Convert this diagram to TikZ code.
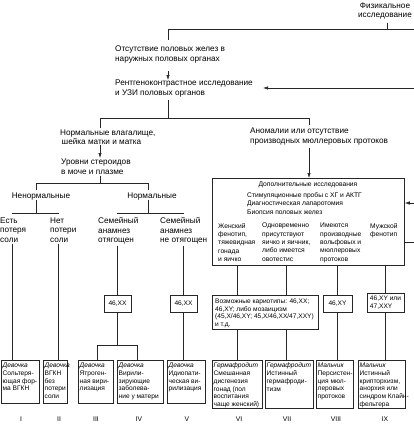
\documentclass[tikz,border=0pt]{standalone}
\usepackage{fontspec}
\setmainfont{Liberation Sans}
\usetikzlibrary{arrows.meta,calc}
\begin{document}
\begin{tikzpicture}[x=1pt,y=-1pt,
  line/.style={draw=black!85, line width=0.6pt},
  arr/.style={line, -{Latex[length=5pt,width=3.4pt]}},
  txt/.style={inner sep=0pt, align=left, font=\fontsize{8.2}{9.5}\selectfont},
  mtxt/.style={inner sep=0pt, align=left, font=\fontsize{6.7}{8.3}\selectfont},
  btxt/.style={inner sep=0pt, align=left, anchor=north west, font=\fontsize{6.6}{7.7}\selectfont},
  box/.style={draw=black!85, line width=0.8pt, inner sep=0pt, anchor=north west},
  kbox/.style={draw=black!85, line width=0.8pt, inner sep=0pt, align=left, font=\fontsize{6.6}{7.7}\selectfont},
  num/.style={inner sep=0pt, font=\fontsize{6.8}{8}\selectfont}
]
\useasboundingbox (0,0) rectangle (414,426);

% ---------- text nodes ----------
\node[txt, align=center, anchor=north] (phys) at (385,2.5) {Физикальное\\исследование};
\node[txt, anchor=north west] (abs) at (115,46) {Отсутствие половых желез в\\наружных половых органах};
\node[txt, anchor=north west] (xray) at (115,80) {Рентгеноконтрастное исследование\\и УЗИ половых органов};
\node[txt, anchor=north west] (norm) at (60,129.5) {Нормальные влагалище,\\\hspace{1.5pt}шейка матки и матка};
\node[txt, anchor=north west] (ster) at (61,159) {Уровни стероидов\\в моче и плазме};
\node[txt, anchor=north west] (anom) at (250,128) {Аномалии или отсутствие\\производных мюллеровых протоков};
\node[txt, anchor=north] (abn) at (41,192.5) {Ненормальные};
\node[txt, anchor=north] (nor) at (152,192.5) {Нормальные};
\node[txt, anchor=north west] (salt) at (0,217.5) {Есть\\потеря\\соли};
\node[txt, anchor=north west] (nosalt) at (50,217.5) {Нет\\потери\\соли};
\node[txt, anchor=north west] (fam) at (98,217.5) {Семейный\\анамнез\\отягощен};
\node[txt, anchor=north west] (nofam) at (160,217.5) {Семейный\\анамнез\\не отягощен};

% ---------- big box ----------
\node[box, minimum width=192, minimum height=87] (add) at (212,178) {};
\node[mtxt, anchor=north] (addt) at (308,182) {Дополнительные исследования};
\node[mtxt, anchor=north west] (meth) at (247,192.5) {Стимуляционные пробы с ХГ и АКТГ\\Диагностическая лапаротомия\\Биопсия половых желез};
\node[mtxt, anchor=north west] (c1) at (218,223) {Женский\\фенотип,\\тяжевидная\\гонада\\и яичко};
\node[mtxt, anchor=north west] (c2) at (262,223) {Одновременно\\присутствуют\\яичко и яичник,\\либо имеется\\овотестис};
\node[mtxt, anchor=north west] (c3) at (320,223) {Имеются\\производные\\вольфовых и\\мюллеровых\\протоков};
\node[mtxt, anchor=north west] (c4) at (370,223) {Мужской\\фенотип};

% ---------- karyotype boxes ----------
\node[kbox, minimum width=27, minimum height=17] (xxa) at (117.5,303.5) {46,XX};
\node[kbox, minimum width=27, minimum height=17] (xxb) at (183.5,303.5) {46,XX};
\node[box, minimum width=106, minimum height=34] (poss) at (212,295) {};
\node[btxt] (posst) at (215,298.5) {Возможные кариотипы: 46,XX;\\46,XY; либо мозаицизм\\(45,X/46,XY; 45,X/46,XX/47,XXY)\\и т.д.};
\node[kbox, minimum width=29, minimum height=17] (xy) at (337.5,303.5) {46,XY};
\node[kbox, minimum width=37, minimum height=19] (xyo) at (385.5,302.5) {46,XY или\\47,XXY};

% ---------- result boxes ----------
\node[box, minimum width=38, minimum height=43] (bI) at (1,360) {};
\node[box, minimum width=24, minimum height=43] (bII) at (43,360) {};
\node[box, minimum width=35, minimum height=43] (bIII) at (78,360) {};
\node[box, minimum width=46, minimum height=43] (bIV) at (117,360) {};
\node[box, minimum width=38, minimum height=43] (bV) at (167,360) {};
\node[box, minimum width=50, minimum height=48] (bVI) at (212,360) {};
\node[box, minimum width=48, minimum height=48] (bVII) at (265,360) {};
\node[box, minimum width=37, minimum height=48] (bVIII) at (316,360) {};
\node[box, minimum width=47, minimum height=48] (bIX) at (358,360) {};

\node[btxt] (tI) at ([shift={(1.5,3)}]bI.north west) {\textit{Девочка}\\Сольтеря-\\ющая фор-\\ма ВГКН};
\node[btxt] (tII) at ([shift={(1.5,3)}]bII.north west) {\textit{Девочка}\\ВГКН\\без\\потери\\соли};
\node[btxt] (tIII) at ([shift={(1.5,3)}]bIII.north west) {\textit{Девочка}\\Ятроген-\\ная вири-\\лизация};
\node[btxt] (tIV) at ([shift={(1.5,3)}]bIV.north west) {\textit{Девочка}\\Вирили-\\зирующие\\заболева-\\ние у матери};
\node[btxt] (tV) at ([shift={(1.5,3)}]bV.north west) {\textit{Девочка}\\Идиопати-\\ческая ви-\\рилизация};
\node[btxt] (tVI) at ([shift={(1.5,3)}]bVI.north west) {\textit{Гермафродит}\\Смешанная\\дисгенезия\\гонад (пол\\воспитания\\чаще женский)};
\node[btxt] (tVII) at ([shift={(1.5,3)}]bVII.north west) {\textit{Гермафродит}\\Истинный\\гермафроди-\\тизм};
\node[btxt] (tVIII) at ([shift={(1.5,3)}]bVIII.north west) {\textit{Мальчик}\\Персистен-\\ция мюл-\\леровых\\протоков};
\node[btxt] (tIX) at ([shift={(1.5,3)}]bIX.north west) {\textit{Мальчик}\\Истинный\\крипторхизм,\\анорхия или\\синдром Клайн-\\фельтера};

\node[num] (nI) at (21,419) {I};
\node[num] (nII) at (59,419) {II};
\node[num] (nIII) at (96,419) {III};
\node[num] (nIV) at (139,419) {IV};
\node[num] (nV) at (187,419) {V};
\node[num] (nVI) at (239,419) {VI};
\node[num] (nVII) at (287,419) {VII};
\node[num] (nVIII) at (336,419) {VIII};
\node[num] (nIX) at (385,419) {IX};

% ---------- coordinates ----------
\coordinate (e1) at (414,29);
\coordinate (j1) at (168,29);
\coordinate (j1b) at (387,29);
\coordinate (rin) at (414,88);
\coordinate (j2) at (168,118);
\coordinate (j2l) at (100,118);
\coordinate (j2r) at (309,118);
\coordinate (j3) at (100,183);
\coordinate (j3l) at (36,183);
\coordinate (j3r) at (148,183);
\coordinate (j4) at (36,213);
\coordinate (j4l) at (12,213);
\coordinate (j4r) at (58,213);
\coordinate (j5) at (148,213);
\coordinate (j5l) at (117.5,213);
\coordinate (j5r) at (183.5,213);
\coordinate (j6) at (117.5,345);
\coordinate (j6l) at (97,345);
\coordinate (j6r) at (137,345);
\coordinate (rin2) at (414,203);
\coordinate (rout) at (414,242);
\coordinate (xa) at (237,0);
\coordinate (xb) at (286,0);

% ---------- connectors ----------
\draw[line, shorten <=3pt] (phys.south -| j1b) -- (j1b);
\draw[line, shorten >=6pt] (e1) -- (j1) -- (abs.north -| j1);
\draw[arr, shorten <=8pt] (abs.south -| j1) -- (xray.north -| j1);
\draw[arr, shorten >=10pt] (rin) -- (xray.east |- rin);
\draw[line, shorten <=3pt] (xray.south -| j2) -- (j2);
\draw[line, shorten <=1.5pt, shorten >=3pt] (norm.north -| j2l) -- (j2l) -- (j2r) -- (anom.north -| j2r);
\draw[arr, shorten >=1pt] (norm.south -| j2l) -- (ster.north -| j2l);
\draw[line, shorten <=1pt] (ster.south -| j3) -- (j3);
\draw[line, shorten <=2.5pt, shorten >=2.5pt] (abn.north -| j3l) -- (j3l) -- (j3r) -- (nor.north -| j3r);
\draw[line] (abn.south -| j4) -- (j4);
\draw[line] (nor.south -| j5) -- (j5);
\draw[line, shorten <=4pt, shorten >=4pt] (salt.north -| j4l) -- (j4l) -- (j4r) -- (nosalt.north -| j4r);
\draw[line, shorten <=4pt, shorten >=4pt] (fam.north -| j5l) -- (j5l) -- (j5r) -- (nofam.north -| j5r);
\draw[line, shorten <=1pt] (salt.south -| j4l) -- (bI.north -| j4l);
\draw[line, shorten <=1pt] (nosalt.south -| j4r) -- (bII.north -| j4r);
\draw[line, shorten <=1pt] (fam.south -| xxa) -- (xxa.north);
\draw[line, shorten <=1pt] (nofam.south -| xxb) -- (xxb.north);
\draw[line] (xxa.south) -- (j6);
\draw[line] (bIII.north -| j6l) -- (j6l) -- (j6r) -- (bIV.north -| j6r);
\draw[line] (xxb.south) -- (bV.north -| xxb);

\draw[arr, shorten <=3pt] (anom.south -| j2r) -- (add.north -| j2r);
\draw[arr] (rin2) -- (add.east |- rin2);
\draw[line] (add.east |- rout) -- (rout);
\draw[line] (add.south -| xa) -- (poss.north -| xa);
\draw[line] (add.south -| xb) -- (poss.north -| xb);
\draw[line] (add.south -| xy) -- (xy.north);
\draw[line] (add.south -| xyo) -- (xyo.north);
\draw[line] (poss.south -| xa) -- (bVI.north -| xa);
\draw[line] (poss.south -| xb) -- (bVII.north -| xb);
\draw[line] (xy.south) -- (bVIII.north -| xy);
\draw[line] (xyo.south) -- (bIX.north -| xyo);
\end{tikzpicture}
\end{document}
